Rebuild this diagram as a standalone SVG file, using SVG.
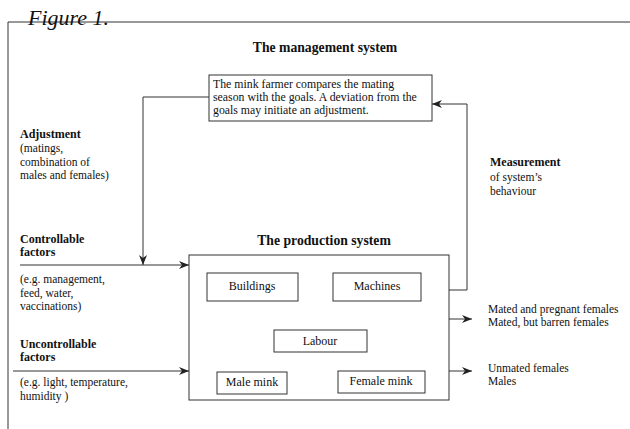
<svg xmlns="http://www.w3.org/2000/svg" width="630" height="429" viewBox="0 0 630 429">
<style>
text{font-family:"Liberation Serif","Times New Roman",serif;fill:#111;font-size:11.5px}
.b{font-weight:bold;font-size:12px}
.t{font-weight:bold;font-size:13.7px}
.m{font-size:11.8px}
.n{font-size:12px}
.c{text-anchor:middle}
.box{fill:none;stroke:#333;stroke-width:1}
.ln{fill:none;stroke:#333;stroke-width:1}
</style>
<defs>
<marker id="ah" viewBox="0 0 10 8" refX="10" refY="4" markerWidth="10" markerHeight="8" markerUnits="userSpaceOnUse" orient="auto">
<path d="M0,0 L10,4 L0,8 L3,4 Z" fill="#222"/>
</marker>
</defs>
<rect width="630" height="429" fill="#fff"/>
<g id="frame">
<path class="ln" d="M8,429 V22 H630" stroke="#111"/>
<text x="28" y="25" style="font-size:22px;font-style:italic">Figure 1.</text>
</g>
<g id="management">
<text class="t c" x="325" y="52">The management system</text>
<rect class="box" x="209" y="75" width="223" height="46"/>
<text class="m" x="213" y="88">The mink farmer compares the mating</text>
<text class="m" x="213" y="101">season with the goals. A deviation from the</text>
<text class="m" x="213" y="114">goals may initiate an adjustment.</text>
</g>
<g id="production">
<text class="t c" x="324" y="245">The production system</text>
<rect class="box" x="189" y="255" width="260" height="145"/>
</g>
<g id="buildings"><rect class="box" x="207" y="273" width="91" height="28"/><text class="n c" x="252" y="290">Buildings</text></g>
<g id="machines"><rect class="box" x="333" y="273" width="88" height="28"/><text class="n c" x="377" y="290">Machines</text></g>
<g id="labour"><rect class="box" x="274" y="330" width="93" height="22"/><text class="n c" x="320" y="345">Labour</text></g>
<g id="male"><rect class="box" x="217" y="372" width="70" height="22"/><text class="n c" x="252" y="386">Male mink</text></g>
<g id="female"><rect class="box" x="338" y="371" width="87" height="22"/><text class="n c" x="381" y="385">Female mink</text></g>
<g id="labels">
<text class="b" x="20" y="138">Adjustment</text>
<text x="20" y="152">(matings,</text>
<text x="20" y="166">combination of</text>
<text x="20" y="179">males and females)</text>
<text class="b" x="20" y="243">Controllable</text>
<text class="b" x="20" y="256">factors</text>
<text x="20" y="283">(e.g. management,</text>
<text x="20" y="297">feed, water,</text>
<text x="20" y="310">vaccinations)</text>
<text class="b" x="20" y="348">Uncontrollable</text>
<text class="b" x="20" y="361">factors</text>
<text x="20" y="386">(e.g. light, temperature,</text>
<text x="20" y="400">humidity )</text>
<text class="b" x="490" y="166">Measurement</text>
<text x="490" y="181">of system’s</text>
<text x="490" y="195">behaviour</text>
<text x="488" y="313">Mated and pregnant females</text>
<text x="488" y="326">Mated, but barren females</text>
<text x="488" y="372">Unmated females</text>
<text x="488" y="385">Males</text>
</g>
<g id="connectors">
<path class="ln" d="M209,97 H143 V265" marker-end="url(#ah)"/>
<path class="ln" d="M20,265 H189" marker-end="url(#ah)"/>
<path class="ln" d="M13,371 H189" marker-end="url(#ah)"/>
<path class="ln" d="M449,290 H467 V104 H432" marker-end="url(#ah)"/>
<path class="ln" d="M449,319 H472" marker-end="url(#ah)"/>
<path class="ln" d="M449,371 H472" marker-end="url(#ah)"/>
</g>
</svg>
